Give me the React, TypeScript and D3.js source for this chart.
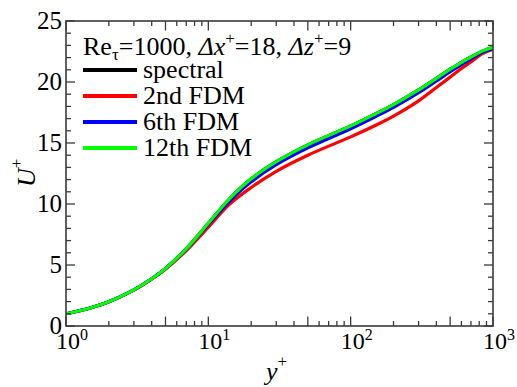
import React, { useEffect, useRef } from "react";
import * as d3 from "d3";

// Mean streamwise velocity profiles in wall units, channel flow at Re_tau = 1000
const yPlus = [1, 1.5, 2, 3, 4, 5, 7, 10, 14, 20, 30, 50, 100, 150, 200, 300, 400, 500, 600, 700, 850, 1000];

const spectral = [1.0, 1.5, 1.99, 2.96, 3.87, 4.72, 6.33, 8.42, 10.39, 12.06, 13.47, 14.85, 16.4, 17.4, 18.15, 19.35, 20.3, 21.05, 21.6, 22.05, 22.55, 22.84];
const fdm2 = [1.0, 1.5, 1.98, 2.94, 3.84, 4.66, 6.18, 8.1, 9.95, 11.35, 12.68, 14.0, 15.5, 16.45, 17.2, 18.45, 19.55, 20.4, 21.1, 21.65, 22.35, 22.68];
const fdm6 = [1.0, 1.5, 1.99, 2.96, 3.87, 4.72, 6.29, 8.33, 10.2, 11.82, 13.22, 14.6, 16.17, 17.17, 17.92, 19.12, 20.08, 20.85, 21.42, 21.9, 22.45, 22.75];
const fdm12 = [1.0, 1.5, 1.99, 2.96, 3.87, 4.72, 6.33, 8.42, 10.39, 12.06, 13.47, 14.85, 16.4, 17.4, 18.15, 19.35, 20.3, 21.05, 21.6, 22.05, 22.55, 22.85];

const seriesNames = ["spectral", "2nd FDM", "6th FDM", "12th FDM"];
const seriesColors = ["#000000", "#ff0000", "#0000ff", "#00ff00"];
const seriesValues = [spectral, fdm2, fdm6, fdm12];

const xDomain: [number, number] = [1, 1000];
const yDomain: [number, number] = [0, 25];
const xTickExponents = [0, 1, 2, 3];
const yTickLabels = [0, 5, 10, 15, 20, 25];

const W = 517;
const H = 387;
const margin = { left: 66, right: 24, top: 21, bottom: 61 };
const AXIS = "#3a3a3a";
const SERIF = "Liberation Serif";

export default function App() {
  const svgRef = useRef<SVGSVGElement | null>(null);

  // apply the serif face to every label once mounted
  useEffect(() => {
    if (!svgRef.current) return;
    d3.select(svgRef.current)
      .selectAll("text, tspan")
      .attr("font-family", "serif")
      .style("font-family", "'Liberation Serif', 'Times New Roman', serif");
  }, []);

  const x = d3.scaleLog().domain(xDomain).range([margin.left, W - margin.right]);
  const y = d3.scaleLinear().domain(yDomain).range([H - margin.bottom, margin.top]);
  const [x0, x1] = x.range();
  const [y0, y1] = y.range();

  const line = d3
    .line<number>()
    .x((_, i) => x(yPlus[i]))
    .y((d) => y(d))
    .curve(d3.curveCatmullRom.alpha(0.5));

  const xTicks = x.ticks();
  const yTicks = d3.range(yDomain[0], yDomain[1] + 1, 1);

  const longX = (v: number) => {
    const m = v / Math.pow(10, Math.floor(Math.log10(v) + 1e-9));
    return Math.abs(m - 1) < 1e-6 || Math.abs(m - 5) < 1e-6;
  };

  return (
    <svg ref={svgRef} width={W} height={H} style={{ position: "absolute", left: 0, top: 0, background: "#fff" }}>
      <defs>
        <clipPath id="plotClip">
          <rect x={x0} y={y1} width={x1 - x0} height={y0 - y1} />
        </clipPath>
      </defs>

      {/* curves */}
      <g clipPath="url(#plotClip)">
        {seriesValues.map((vals, k) => (
          <path key={k} d={line(vals) || ""} fill="none" stroke={seriesColors[k]} strokeWidth={3.2} strokeLinejoin="round" />
        ))}
      </g>

      {/* frame */}
      <rect x={x0} y={y1} width={x1 - x0} height={y0 - y1} fill="none" stroke={AXIS} strokeWidth={1.6} />

      {/* x ticks, bottom and top, pointing inward */}
      {xTicks.map((v, i) => {
        const len = longX(v) ? 9.5 : 5;
        const px = x(v);
        return (
          <g key={"xt" + i} stroke={AXIS} strokeWidth={1.3}>
            <line x1={px} x2={px} y1={y0} y2={y0 - len} />
            <line x1={px} x2={px} y1={y1} y2={y1 + len} />
          </g>
        );
      })}

      {/* y ticks, left and right, pointing inward */}
      {yTicks.map((v, i) => {
        const len = v % 5 === 0 ? 9 : 5;
        const py = y(v);
        return (
          <g key={"yt" + i} stroke={AXIS} strokeWidth={1.3}>
            <line x1={x0} x2={x0 + len} y1={py} y2={py} />
            <line x1={x1} x2={x1 - len} y1={py} y2={py} />
          </g>
        );
      })}

      {/* y tick labels */}
      {yTickLabels.map((v) => (
        <text key={"yl" + v} x={x0 - 4} y={y(v) + 8} textAnchor="end" fontSize={25} fontFamily={SERIF}>
          {String(v)}
        </text>
      ))}

      {/* x tick labels: powers of ten */}
      {xTickExponents.map((e) => (
        <text key={"xl" + e} x={x(Math.pow(10, e)) - 10} y={y0 + 23} fontSize={24} fontFamily={SERIF}>
          <tspan>10</tspan>
          <tspan fontSize={16} dy={-9}>
            {String(e)}
          </tspan>
        </text>
      ))}

      {/* axis titles */}
      <text x={266} y={380} fontSize={26} fontFamily={SERIF}>
        <tspan fontStyle="italic">y</tspan>
        <tspan fontSize={17} dy={-13}>+</tspan>
      </text>
      <text transform={`translate(35,187) rotate(-90)`} fontSize={26} fontFamily={SERIF}>
        <tspan fontStyle="italic">U</tspan>
        <tspan fontSize={17} dy={-13}>+</tspan>
      </text>

      {/* legend */}
      <text x={83} y={55} fontSize={26} fontFamily={SERIF}>
        <tspan>Re</tspan>
        <tspan fontSize={17} dy={5}>τ</tspan>
        <tspan dy={-5}>=1000, </tspan>
        <tspan fontStyle="italic">Δx</tspan>
        <tspan fontSize={17} dy={-11}>+</tspan>
        <tspan dy={11}>=18, </tspan>
        <tspan fontStyle="italic">Δz</tspan>
        <tspan fontSize={17} dy={-11}>+</tspan>
        <tspan dy={11}>=9</tspan>
      </text>
      {seriesNames.map((name, k) => {
        const ly = 70 + k * 26;
        return (
          <g key={name}>
            <line x1={83} x2={137} y1={ly} y2={ly} stroke={seriesColors[k]} strokeWidth={4} />
            <text x={143} y={ly + 8} fontSize={26} fontFamily={SERIF}>
              {name}
            </text>
          </g>
        );
      })}
    </svg>
  );
}
